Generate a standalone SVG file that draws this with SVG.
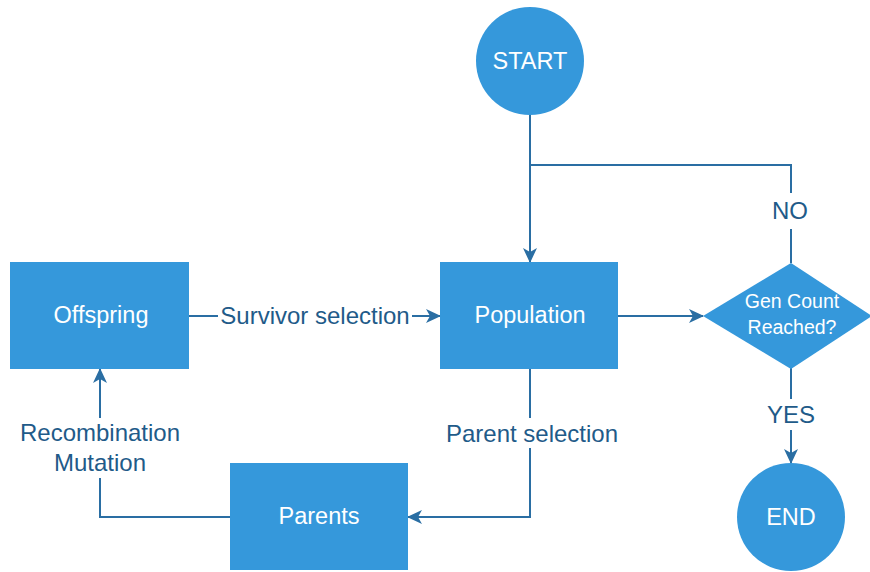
<svg xmlns="http://www.w3.org/2000/svg" width="870" height="572" viewBox="0 0 870 572">
  <style>
    .shape { fill: #3598db; stroke: none; }
    .ntext { fill: #ffffff; font-family: "Liberation Sans", Arial, sans-serif; font-size: 23.5px; text-anchor: middle; dominant-baseline: central; }
    .dtext { fill: #ffffff; font-family: "Liberation Sans", Arial, sans-serif; font-size: 19.5px; text-anchor: middle; dominant-baseline: central; }
    .edge { fill: none; stroke: #2a6ea3; stroke-width: 2; }
    .ltext { fill: #1f5b89; font-family: "Liberation Sans", Arial, sans-serif; font-size: 24px; text-anchor: middle; dominant-baseline: central; }
  </style>
  <defs>
    <marker id="arrow" markerUnits="userSpaceOnUse" markerWidth="16" markerHeight="14" refX="14" refY="7" orient="auto">
      <path d="M0,0 L15,7 L0,14 L4,7 Z" fill="#2a6ea3"/>
    </marker>
  </defs>
  <rect width="870" height="572" fill="#ffffff"/>

  <g id="connectors">
    <path class="edge" d="M530,115 L530,262" marker-end="url(#arrow)"/>
    <path class="edge" d="M791,263 L791,229"/>
    <path class="edge" d="M791,193 L791,165 L530,165"/>
    <text class="ltext" x="790" y="210">NO</text>
    <path class="edge" d="M618,316 L703,316" marker-end="url(#arrow)"/>
    <path class="edge" d="M791,368 L791,399"/>
    <path class="edge" d="M791,430 L791,463" marker-end="url(#arrow)"/>
    <text class="ltext" x="791" y="414">YES</text>
    <path class="edge" d="M189,316 L218,316"/>
    <path class="edge" d="M412,316 L440,316" marker-end="url(#arrow)"/>
    <text class="ltext" x="315" y="315">Survivor selection</text>
    <path class="edge" d="M530,368 L530,418"/>
    <path class="edge" d="M530,448 L530,517 L408,517" marker-end="url(#arrow)"/>
    <text class="ltext" x="532" y="433">Parent selection</text>
    <path class="edge" d="M230,517 L100,517 L100,478"/>
    <path class="edge" d="M100,418 L100,369" marker-end="url(#arrow)"/>
    <text class="ltext" x="100" y="432">Recombination</text>
    <text class="ltext" x="100" y="462">Mutation</text>
  </g>

  <g id="start">
    <circle class="shape" cx="530" cy="61" r="54"/>
    <text class="ntext" x="530" y="61">START</text>
  </g>
  <g id="population">
    <rect class="shape" x="440" y="262" width="178" height="107"/>
    <text class="ntext" x="530" y="315">Population</text>
  </g>
  <g id="offspring">
    <rect class="shape" x="10" y="262" width="179" height="107"/>
    <text class="ntext" x="101" y="315">Offspring</text>
  </g>
  <g id="parents">
    <rect class="shape" x="230" y="463" width="178" height="107"/>
    <text class="ntext" x="319" y="516">Parents</text>
  </g>
  <g id="decision">
    <polygon class="shape" points="703,316 791,263 872,316 791,369"/>
    <text class="dtext" x="792" y="301">Gen Count</text>
    <text class="dtext" x="792" y="327">Reached?</text>
  </g>
  <g id="end">
    <circle class="shape" cx="791" cy="517" r="54"/>
    <text class="ntext" x="791" y="517">END</text>
  </g>
</svg>
